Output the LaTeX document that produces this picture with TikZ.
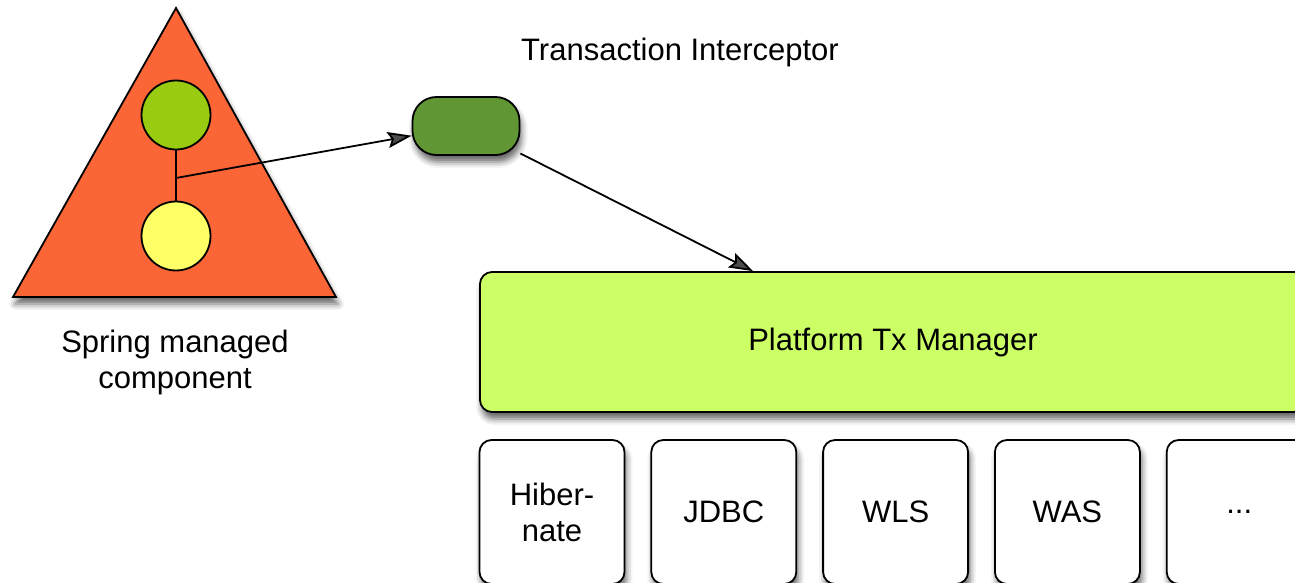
\documentclass[tikz,border=0pt]{standalone}
\usepackage{fontspec}
\setmainfont{Liberation Sans}
\usepackage{xcolor}
\usepackage{tikz}
\usetikzlibrary{positioning, shapes.geometric, arrows.meta, shadows.blur}
\definecolor{springorange}{RGB}{252,102,54}
\definecolor{beangreen}{RGB}{153,204,17}
\definecolor{beanyellow}{RGB}{255,255,102}
\definecolor{icptgreen}{RGB}{96,150,52}
\definecolor{ptmgreen}{RGB}{204,255,102}

\begin{document}
\begin{tikzpicture}[x=1pt, y=-1pt, line width=1.8pt,
		font=\fontsize{31}{36}\selectfont,
		softshadow/.style={blur shadow={shadow xshift=2pt, shadow yshift=-7pt, shadow blur radius=6pt, shadow opacity=60}},
		bean/.style={draw, circle, minimum size=69pt, inner sep=0pt},
		txbox/.style={draw, fill=white, rounded corners=12pt, minimum width=145pt, minimum height=144pt, align=center, softshadow},
		arr/.style={-{Stealth[length=24pt, width=16pt, inset=4pt]}}]
		\clip (0,0) rectangle (1295,583);
		
		% Define the nodes
		\draw[fill=springorange, softshadow] (176,8) -- (336,297) -- (13,297) -- cycle;
		\node (upper) [bean, fill=beangreen] at (176,115) {};
		\node (lower) [bean, fill=beanyellow] at (176,236) {};
		\coordinate (joint) at (176,178);
		\node (springlabel) [align=center] at (175,362) {Spring managed\\component};
		
		\node (icpt) [draw, fill=icptgreen, rounded corners=24pt, minimum width=107pt, minimum height=58pt, softshadow] at (466,126) {};
		\node (icptlabel) at (680,52) {Transaction Interceptor};
		
		\node (ptm) [draw, fill=ptmgreen, rounded corners=12pt, minimum width=826pt, minimum height=140pt, softshadow] at (893,342) {Platform Tx Manager};
		
		\node (hib) [txbox] at (552,512) {Hiber-\\nate};
		\node (jdbc) [txbox, right=25pt of hib] {JDBC};
		\node (wls) [txbox, right=25pt of jdbc] {WLS};
		\node (was) [txbox, right=25pt of wls] {WAS};
		\node (more) [txbox, right=25pt of was] {...};
		
		% Connect the nodes with arrows
		\draw (upper) -- (lower);
		\draw[arr] (joint) -- (icpt);
		\draw[arr] (icpt) -- (ptm);
	\end{tikzpicture}
\end{document}
